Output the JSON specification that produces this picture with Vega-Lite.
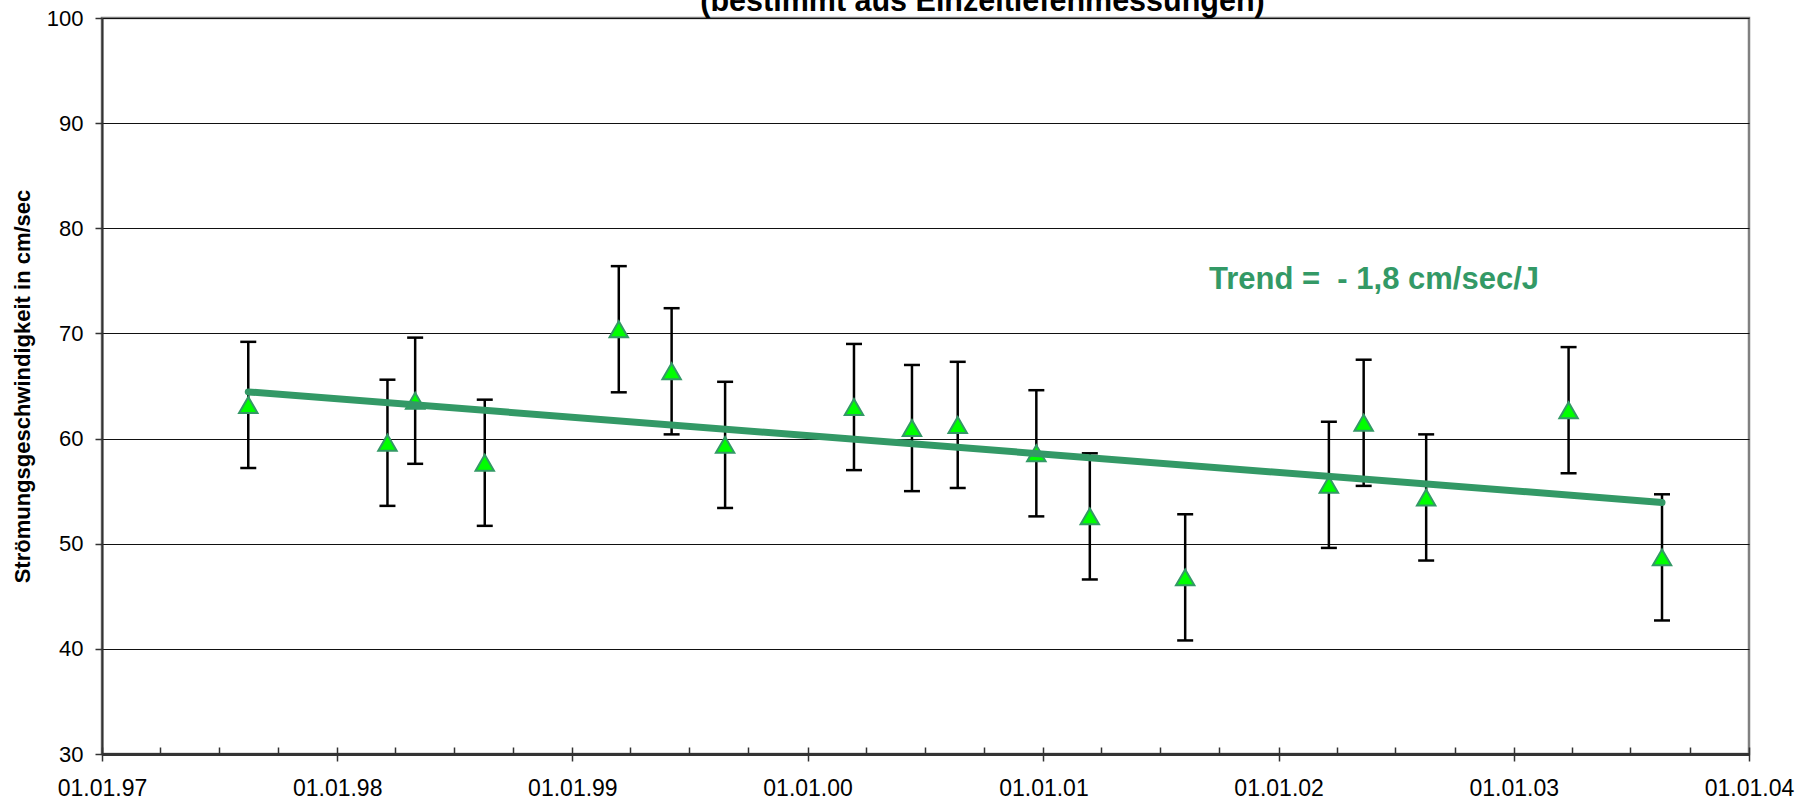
{
  "$schema": "https://vega.github.io/schema/vega-lite/v6.json",
  "width": 1647,
  "height": 736,
  "autosize": {"type": "none"},
  "padding": {"left": 102, "top": 18, "right": 60, "bottom": 48},
  "background": "white",
  "config": {
    "font": "Liberation Sans",
    "view": {"stroke": "#808080", "strokeWidth": 2.5}
  },
  "title": {
    "text": "(bestimmt aus Einzeltiefenmessungen)",
    "font": "Liberation Sans",
    "fontSize": 30.5,
    "fontWeight": "bold",
    "color": "black",
    "anchor": "middle",
    "frame": "group",
    "dx": 57,
    "dy": 34,
    "offset": 0,
    "baseline": "alphabetic"
  },
  "datasets": {
    "pts": [
      {"date": "1997/08/16", "v": 63.2, "lo": 57.2, "hi": 69.2},
      {"date": "1998/03/20", "v": 59.6, "lo": 53.6, "hi": 65.6},
      {"date": "1998/05/02", "v": 63.6, "lo": 57.6, "hi": 69.6},
      {"date": "1998/08/18", "v": 57.7, "lo": 51.7, "hi": 63.7},
      {"date": "1999/03/14", "v": 70.4, "lo": 64.4, "hi": 76.4},
      {"date": "1999/06/04", "v": 66.4, "lo": 60.4, "hi": 72.4},
      {"date": "1999/08/26", "v": 59.4, "lo": 53.4, "hi": 65.4},
      {"date": "2000/03/13", "v": 63.0, "lo": 57.0, "hi": 69.0},
      {"date": "2000/06/11", "v": 61.0, "lo": 55.0, "hi": 67.0},
      {"date": "2000/08/21", "v": 61.3, "lo": 55.3, "hi": 67.3},
      {"date": "2000/12/21", "v": 58.6, "lo": 52.6, "hi": 64.6},
      {"date": "2001/03/14", "v": 52.6, "lo": 46.6, "hi": 58.6},
      {"date": "2001/08/09", "v": 46.8, "lo": 40.8, "hi": 52.8},
      {"date": "2002/03/20", "v": 55.6, "lo": 49.6, "hi": 61.6},
      {"date": "2002/05/13", "v": 61.5, "lo": 55.5, "hi": 67.5},
      {"date": "2002/08/18", "v": 54.4, "lo": 48.4, "hi": 60.4},
      {"date": "2003/03/27", "v": 62.7, "lo": 56.7, "hi": 68.7},
      {"date": "2003/08/19", "v": 48.7, "lo": 42.7, "hi": 54.7}
    ],
    "trend": [
      {"date": "1997/08/16", "t": 64.44},
      {"date": "2003/08/19", "t": 53.93}
    ],
    "note": [
      {"date": "2001/09/15", "v": 74.2, "label": "Trend = \u00a0- 1,8 cm/sec/J"}
    ]
  },
  "layer": [
    {
      "data": {"name": "pts"},
      "mark": {"type": "rule", "color": "black", "strokeWidth": 2.5},
      "encoding": {
        "x": {
          "field": "date", "type": "temporal",
          "scale": {"domain": [{"year": 1997, "month": 1, "date": 1}, {"year": 2004, "month": 1, "date": 1}], "nice": false},
          "axis": {
            "title": null,
            "values": [
              {"year": 1997, "month": 1, "date": 1}, {"year": 1998, "month": 1, "date": 1},
              {"year": 1999, "month": 1, "date": 1}, {"year": 2000, "month": 1, "date": 1},
              {"year": 2001, "month": 1, "date": 1}, {"year": 2002, "month": 1, "date": 1},
              {"year": 2003, "month": 1, "date": 1}, {"year": 2004, "month": 1, "date": 1}
            ],
            "format": "%d.%m.%y",
            "orient": "bottom",
            "grid": false,
            "labelFont": "Liberation Sans",
            "labelFontSize": 23,
            "labelColor": "black",
            "labelPadding": 16,
            "labelFlush": false,
            "labelOverlap": false,
            "tickSize": 7,
            "tickColor": "#333333",
            "tickWidth": 1.5,
            "domainColor": "#333333",
            "domainWidth": 3
          }
        },
        "y": {
          "field": "lo", "type": "quantitative",
          "title": "Strömungsgeschwindigkeit in cm/sec",
          "scale": {"domain": [30, 100], "nice": false},
          "axis": {
            "values": [30, 40, 50, 60, 70, 80, 90, 100],
            "grid": true,
            "gridColor": "#111111",
            "gridWidth": 1,
            "labelFont": "Liberation Sans",
            "labelFontSize": 22,
            "labelColor": "black",
            "labelPadding": 12,
            "tickSize": 7,
            "tickColor": "#333333",
            "tickWidth": 1.5,
            "domainColor": "#333333",
            "domainWidth": 2,
            "titleFont": "Liberation Sans",
            "titleFontSize": 22,
            "titleFontWeight": "bold",
            "titleColor": "black",
            "titlePadding": 12
          }
        },
        "y2": {"field": "hi"}
      }
    },
    {
      "data": {"name": "pts"},
      "mark": {"type": "tick", "orient": "horizontal", "color": "black", "size": 16, "thickness": 2.5, "opacity": 1},
      "encoding": {
        "x": {
          "field": "date", "type": "temporal",
          "axis": {
            "title": null,
            "orient": "bottom",
            "values": [
              {"year": 1997, "month": 1, "date": 1}, {"year": 1997, "month": 4, "date": 1}, {"year": 1997, "month": 7, "date": 1}, {"year": 1997, "month": 10, "date": 1},
              {"year": 1998, "month": 1, "date": 1}, {"year": 1998, "month": 4, "date": 1}, {"year": 1998, "month": 7, "date": 1}, {"year": 1998, "month": 10, "date": 1},
              {"year": 1999, "month": 1, "date": 1}, {"year": 1999, "month": 4, "date": 1}, {"year": 1999, "month": 7, "date": 1}, {"year": 1999, "month": 10, "date": 1},
              {"year": 2000, "month": 1, "date": 1}, {"year": 2000, "month": 4, "date": 1}, {"year": 2000, "month": 7, "date": 1}, {"year": 2000, "month": 10, "date": 1},
              {"year": 2001, "month": 1, "date": 1}, {"year": 2001, "month": 4, "date": 1}, {"year": 2001, "month": 7, "date": 1}, {"year": 2001, "month": 10, "date": 1},
              {"year": 2002, "month": 1, "date": 1}, {"year": 2002, "month": 4, "date": 1}, {"year": 2002, "month": 7, "date": 1}, {"year": 2002, "month": 10, "date": 1},
              {"year": 2003, "month": 1, "date": 1}, {"year": 2003, "month": 4, "date": 1}, {"year": 2003, "month": 7, "date": 1}, {"year": 2003, "month": 10, "date": 1},
              {"year": 2004, "month": 1, "date": 1}
            ],
            "labels": false,
            "domain": false,
            "grid": false,
            "tickSize": -7,
            "tickColor": "#333333",
            "tickWidth": 1.5
          }
        },
        "y": {"field": "lo", "type": "quantitative", "title": "Strömungsgeschwindigkeit in cm/sec"}
      }
    },
    {
      "data": {"name": "pts"},
      "mark": {"type": "tick", "orient": "horizontal", "color": "black", "size": 16, "thickness": 2.5, "opacity": 1},
      "encoding": {
        "x": {"field": "date", "type": "temporal", "axis": null},
        "y": {"field": "hi", "type": "quantitative", "title": "Strömungsgeschwindigkeit in cm/sec"}
      }
    },
    {
      "data": {"name": "pts"},
      "mark": {"type": "point", "shape": "triangle-up", "size": 340, "filled": true, "fill": "#00FF00", "stroke": "#339966", "strokeWidth": 2, "opacity": 1},
      "encoding": {
        "x": {"field": "date", "type": "temporal", "axis": null},
        "y": {"field": "v", "type": "quantitative", "title": "Strömungsgeschwindigkeit in cm/sec"}
      }
    },
    {
      "data": {"name": "trend"},
      "mark": {"type": "line", "color": "#339966", "strokeWidth": 7, "strokeCap": "round"},
      "encoding": {
        "x": {"field": "date", "type": "temporal", "axis": null},
        "y": {"field": "t", "type": "quantitative", "title": "Strömungsgeschwindigkeit in cm/sec"}
      }
    },
    {
      "data": {"name": "note"},
      "mark": {"type": "text", "align": "left", "baseline": "alphabetic", "font": "Liberation Sans", "fontSize": 31, "fontWeight": "bold", "color": "#339966"},
      "encoding": {
        "x": {"field": "date", "type": "temporal", "axis": null},
        "y": {"field": "v", "type": "quantitative", "title": "Strömungsgeschwindigkeit in cm/sec"},
        "text": {"field": "label"}
      }
    }
  ],
  "resolve": {"axis": {"x": "independent"}}
}
